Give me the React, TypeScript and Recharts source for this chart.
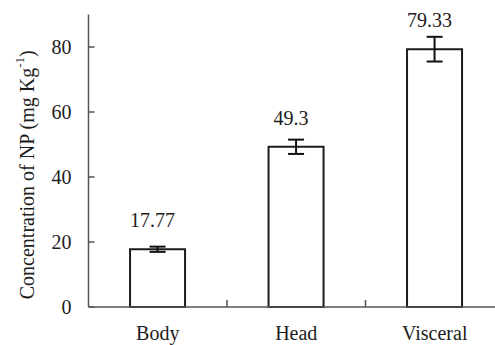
import { BarChart, Bar, XAxis, YAxis, ErrorBar, LabelList } from "recharts";

// values
const parts = ["Body", "Head", "Visceral"];
const concentration = [17.77, 49.3, 79.33];
const stdError = [0.8, 2.2, 3.8];
const yTicks = [0, 20, 40, 60, 80];

const data = parts.map((part, i) => ({
  part,
  value: concentration[i],
  err: stdError[i],
}));

const FONT = "'Liberation Serif', 'Times New Roman', serif";
const AXIS = "#555";
const INK = "#1c1c1c";

const YTick = (props: any) => {
  const { x, y, payload } = props;
  return (
    <g>
      <line x1={x + 17} x2={x + 23} y1={y} y2={y} stroke={AXIS} strokeWidth={1.5} />
      <text x={x} y={y} dy="0.34em" textAnchor="end" style={{ fontFamily: FONT }} fontSize={20} fill={INK}>
        {payload.value}
      </text>
    </g>
  );
};

const XTick = (props: any) => {
  const { x, y, payload, index, width, visibleTicksCount } = props;
  const band = width && visibleTicksCount ? width / visibleTicksCount : 138.5;
  return (
    <g>
      {index > 0 && (
        <line x1={x - band / 2} x2={x - band / 2} y1={y - 33} y2={y - 40} stroke={AXIS} strokeWidth={1.5} />
      )}
      <text x={x} y={y} textAnchor="middle" style={{ fontFamily: FONT }} fontSize={20} fill={INK}>
        {payload.value}
      </text>
    </g>
  );
};

const ValueLabel = (props: any) => {
  const { x, y, width, value } = props;
  return (
    <text x={x + width / 2 - 5} y={y - 22} textAnchor="middle" style={{ fontFamily: FONT }} fontSize={20} fill={INK}>
      {value}
    </text>
  );
};

const YTitle = (props: any) => {
  const { viewBox } = props;
  const cx = viewBox.x + 27;
  const cy = viewBox.y + viewBox.height / 2 + 14;
  return (
    <text
      x={cx}
      y={cy}
      transform={`rotate(-90, ${cx}, ${cy})`}
      textAnchor="middle"
      dominantBaseline="central"
      style={{ fontFamily: FONT }}
      fontSize={20}
      fill={INK}
    >
      Concentration of NP (mg Kg
      <tspan fontSize={13} dy={-8}>-1</tspan>
      <tspan dy={8}>)</tspan>
    </text>
  );
};

export default function App() {
  return (
    <div
      style={{
        position: "fixed",
        left: 0,
        top: 0,
        width: 495,
        height: 345,
        overflow: "hidden",
        background: "#fff",
      }}
    >
      <BarChart
        width={510}
        height={345}
        data={data}
        margin={{ top: 14.5, right: 6, bottom: 0, left: 0 }}
        barCategoryGap="30%"
      >
        <XAxis
          dataKey="part"
          height={38}
          tickSize={0}
          tickMargin={33}
          tick={<XTick />}
          axisLine={{ stroke: AXIS, strokeWidth: 1.5 }}
          tickLine={false}
        />
        <YAxis
          width={88.5}
          domain={[0, 90]}
          ticks={yTicks}
          tickSize={0}
          tickMargin={17}
          tick={<YTick />}
          axisLine={{ stroke: AXIS, strokeWidth: 1.5 }}
          tickLine={false}
          label={<YTitle />}
        />
        <Bar dataKey="value" fill="#fff" stroke={INK} strokeWidth={2} isAnimationActive={false}>
          <ErrorBar dataKey="err" width={8} stroke="#111" strokeWidth={2} isAnimationActive={false} />
          <LabelList dataKey="value" content={<ValueLabel />} />
        </Bar>
      </BarChart>
    </div>
  );
}
